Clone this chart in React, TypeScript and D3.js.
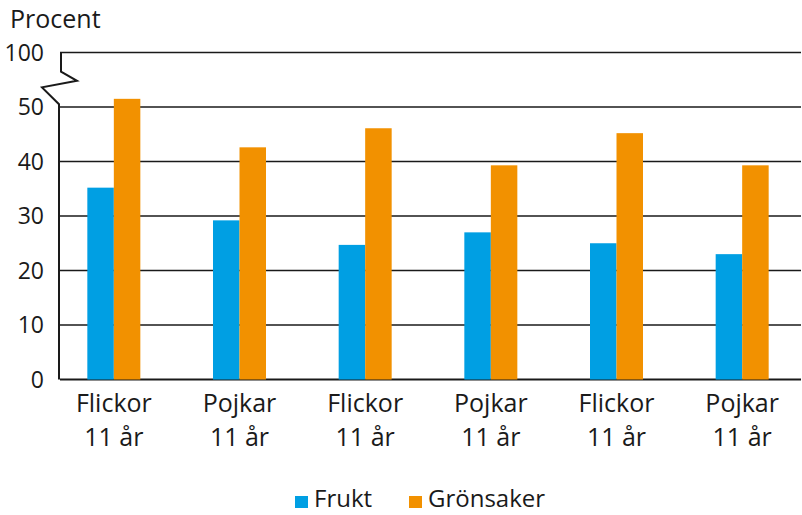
import React from 'react';
import * as d3 from 'd3';

const groups = ['Flickor', 'Pojkar', 'Flickor', 'Pojkar', 'Flickor', 'Pojkar'];
const ageLabels = ['11 år', '11 år', '11 år', '11 år', '11 år', '11 år'];
const series = ['Frukt', 'Grönsaker'];
const frukt = [35.2, 29.2, 24.7, 27.0, 25.0, 23.0];
const gronsaker = [51.5, 42.6, 46.1, 39.3, 45.2, 39.3];
const yTicks = [0, 10, 20, 30, 40, 50, 100];

const colors: Record<string, string> = { Frukt: '#009fe3', Grönsaker: '#f29100' };

const W = 802;
const H = 515;
const FONT = "'Open Sans', sans-serif";

export default function App() {
  const left = 60;
  const right = 801;
  const barW = 26.5;

  // broken axis: 0-55 linear, then compressed up to 100
  const y = d3.scaleLinear().domain([0, 55, 100]).range([379.5, 379.5 - 55 * 5.45, 379.5 - 60 * 5.45]);

  const x0 = d3.scaleBand<number>().domain(d3.range(groups.length)).range([51, 805]).padding(0);
  const bw = x0.bandwidth();
  const x1 = d3.scaleBand<string>().domain(series).range([bw / 2 - barW, bw / 2 + barW]);

  const values: Record<string, number[]> = { Frukt: frukt, Grönsaker: gronsaker };

  const yTop = y(100);
  const y50 = y(50);
  const gap = y50 - yTop;
  // zigzag of the axis break
  const breakPath = [
    [left + 1, yTop],
    [left + 1, yTop + gap * 0.35],
    [left + 17, yTop + gap * 0.52],
    [left - 18, yTop + gap * 0.64],
    [left - 1, yTop + gap * 0.95],
    [left - 1, y(0)],
  ];
  const line = d3.line();

  return (
    <svg
      width={W}
      height={H}
      viewBox={`0 0 ${W} ${H}`}
      style={{ position: 'absolute', left: 0, top: 0, background: '#fff' }}
      fontFamily={FONT}
    >
      <text x={10} y={28} fontSize={25} fill="#1a1a1a">Procent</text>

      {/* Grid lines */}
      {yTicks.map((t) => (
        <line key={t} x1={left} x2={right} y1={y(t)} y2={y(t)} stroke="#1a1a1a" strokeWidth={t === 0 ? 2 : 1.7} />
      ))}

      {/* Tick labels */}
      {yTicks.map((t) => (
        <text key={t} x={44} y={y(t)} dy="0.36em" textAnchor="end" fontSize={23} fill="#1a1a1a">
          {t}
        </text>
      ))}

      {/* Bars */}
      {groups.map((g, i) => (
        <g key={i} transform={`translate(${x0(i)},0)`}>
          {series.map((s) => (
            <rect
              key={s}
              x={x1(s)}
              y={y(values[s][i])}
              width={x1.bandwidth()}
              height={y(0) - y(values[s][i])}
              fill={colors[s]}
            />
          ))}
        </g>
      ))}

      {/* Left axis with break */}
      <path d={line(breakPath as [number, number][]) || ''} fill="none" stroke="#1a1a1a" strokeWidth={2} />

      {/* X labels */}
      {groups.map((g, i) => {
        const cx = (x0(i) || 0) + bw / 2;
        return (
          <g key={i}>
            <text x={cx} y={412} textAnchor="middle" fontSize={25} fill="#1a1a1a">{g}</text>
            <text x={cx} y={446} textAnchor="middle" fontSize={25} fill="#1a1a1a">{ageLabels[i]}</text>
          </g>
        );
      })}

      {/* Legend */}
      {series.map((s, i) => {
        const lx = i === 0 ? 295 : 409;
        return (
          <g key={s} transform={`translate(${lx},0)`}>
            <rect x={0} y={496} width={13} height={12} fill={colors[s]} />
            <text x={19} y={507} fontSize={24} fill="#1a1a1a">{s}</text>
          </g>
        );
      })}
    </svg>
  );
}
